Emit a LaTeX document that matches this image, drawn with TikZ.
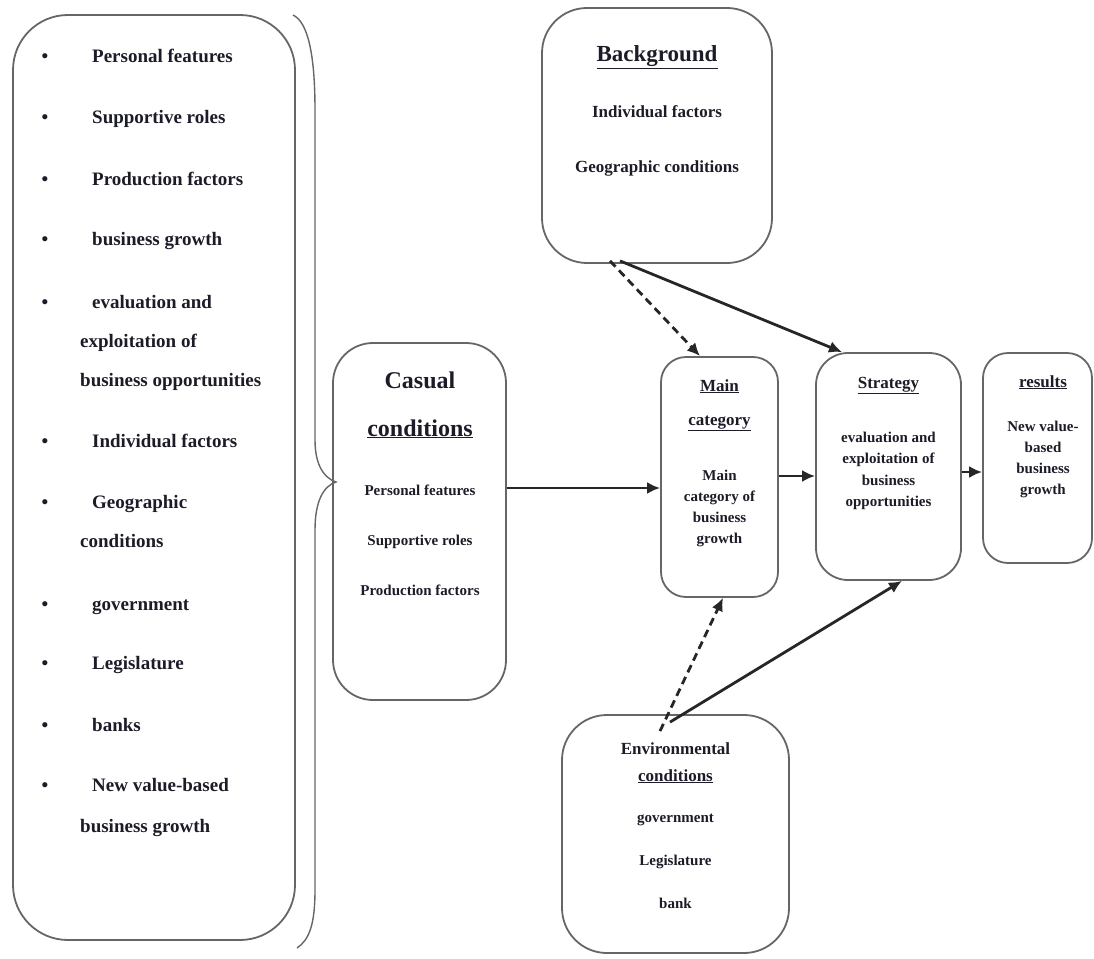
\documentclass[tikz,border=0pt]{standalone}
\usepackage{fontspec}
\setmainfont{Liberation Serif}
\usetikzlibrary{arrows.meta}
\definecolor{boxgray}{HTML}{666666}
\definecolor{arrgray}{HTML}{262626}
\definecolor{txt}{HTML}{1C1C28}
\tikzset{
  box/.style={draw=boxgray, line width=1.8pt, inner sep=0pt},
  ln/.style={anchor=base, inner sep=0pt, text=txt, font=\bfseries\fontsize{15}{18}\selectfont},
  hd/.style={ln, font=\bfseries\fontsize{17}{20}\selectfont},
  li/.style={anchor=base west, inner sep=0pt, text=txt, font=\bfseries\fontsize{19}{22}\selectfont},
  bul/.style={anchor=base, inner sep=0pt, text=txt, font=\bfseries\fontsize{19}{22}\selectfont},
  arr/.style={draw=arrgray, line width=2.8pt, -{Latex[length=13pt,width=12pt]}},
  darr/.style={arr, dash pattern=on 8pt off 5pt},
}
\begin{document}
\begin{tikzpicture}[x=1pt,y=-1pt]
\useasboundingbox (0,0) rectangle (1094,958);
% boxes
\node[box, rounded corners=55pt, minimum width=282pt, minimum height=925pt] (left) at (154,477.5) {};
\node[box, rounded corners=40pt, minimum width=173pt, minimum height=357pt] (casual) at (419.5,521.5) {};
\node[box, rounded corners=45pt, minimum width=230pt, minimum height=255pt] (bg) at (657,135.5) {};
\node[box, rounded corners=25pt, minimum width=117pt, minimum height=240pt] (main) at (719.5,477) {};
\node[box, rounded corners=32pt, minimum width=145pt, minimum height=227pt] (strat) at (888.5,466.5) {};
\node[box, rounded corners=25pt, minimum width=109pt, minimum height=210pt] (res) at (1037.5,458) {};
\node[box, rounded corners=45pt, minimum width=227pt, minimum height=238pt] (env) at (675.5,834) {};
% brace
\draw[boxgray, line width=1.4pt] (293,15) .. controls (308,22) and (315,55) .. (315,110)
  -- (315,440) .. controls (315,465) and (324,478) .. (336,482)
  .. controls (324,486) and (315,500) .. (315,530)
  -- (315,890) .. controls (315,925) and (309,940) .. (297,948);
% left list
\foreach \y [count=\i] in {63,123,185,245,308,447,508,610,669,731,791}
  \node[bul] (b\i) at (45,\y) {\textbullet};
\node[li] (l1) at (92,63) {Personal features};
\node[li] (l2) at (92,123) {Supportive roles};
\node[li] (l3) at (92,185) {Production factors};
\node[li] (l4) at (92,245) {business growth};
\node[li] (l5) at (92,308) {evaluation and};
\node[li] (l5b) at (80,347) {exploitation of};
\node[li] (l5c) at (80,386) {business opportunities};
\node[li] (l6) at (92,447) {Individual factors};
\node[li] (l7) at (92,508) {Geographic};
\node[li] (l7b) at (80,547) {conditions};
\node[li] (l8) at (92,610) {government};
\node[li] (l9) at (92,669) {Legislature};
\node[li] (l10) at (92,731) {banks};
\node[li] (l11) at (92,791) {New value-based};
\node[li] (l11b) at (80,832) {business growth};
% casual conditions
\node[ln, font=\bfseries\fontsize{24}{28}\selectfont] (c1) at (420,388) {Casual};
\node[ln, font=\bfseries\fontsize{24}{28}\selectfont] (c2) at (420,436) {\underline{conditions}};
\node[ln] (c3) at (420,495) {Personal features};
\node[ln] (c4) at (420,545) {Supportive roles};
\node[ln] (c5) at (420,595) {Production factors};
% background
\node[ln, font=\bfseries\fontsize{23}{27}\selectfont] (g1) at (657,62) {\underline{Background}};
\node[hd] (g2) at (657,117) {Individual factors};
\node[hd] (g3) at (657,172) {Geographic conditions};
% main category
\node[hd] (m1) at (719.5,391) {\underline{Main}};
\node[hd] (m2) at (719.5,425) {\underline{category}};
\node[ln] (m3) at (719.5,480) {Main};
\node[ln] (m4) at (719.5,501) {category of};
\node[ln] (m5) at (719.5,522) {business};
\node[ln] (m6) at (719.5,543) {growth};
% strategy
\node[hd] (s1) at (888.5,388) {\underline{Strategy}};
\node[ln] (s2) at (888.5,442) {evaluation and};
\node[ln] (s3) at (888.5,463.5) {exploitation of};
\node[ln] (s4) at (888.5,485) {business};
\node[ln] (s5) at (888.5,506.5) {opportunities};
% results
\node[hd] (r1) at (1043,387) {\underline{results}};
\node[ln] (r2) at (1043,431) {New value-};
\node[ln] (r3) at (1043,452) {based};
\node[ln] (r4) at (1043,473) {business};
\node[ln] (r5) at (1043,494) {growth};
% environmental
\node[hd] (e1) at (675.5,754) {Environmental};
\node[hd] (e2) at (675.5,781) {\underline{conditions}};
\node[ln] (e3) at (675.5,822) {government};
\node[ln] (e4) at (675.5,865) {Legislature};
\node[ln] (e5) at (675.5,908) {bank};
% arrows
\draw[arr] ([yshift=33.5pt]casual.east) -- ([yshift=-11pt]main.west);
\draw[arr] ([yshift=1pt]main.east) -- ([yshift=-9.5pt]strat.west);
\draw[arr] ([yshift=-5.5pt]strat.east) -- ([yshift=-14pt]res.west);
\draw[darr] ([xshift=-47pt,yshift=3pt]bg.south) -- ([xshift=-19.5pt]main.north);
\draw[arr] ([xshift=-37pt,yshift=3pt]bg.south) -- ([xshift=-46.5pt]strat.north);
\draw[darr] ([xshift=-15.5pt,yshift=-17pt]env.north) -- ([xshift=3.5pt]main.south);
\draw[arr] ([xshift=-5.5pt,yshift=-8pt]env.north) -- ([xshift=13.5pt]strat.south);
\end{tikzpicture}
\end{document}
